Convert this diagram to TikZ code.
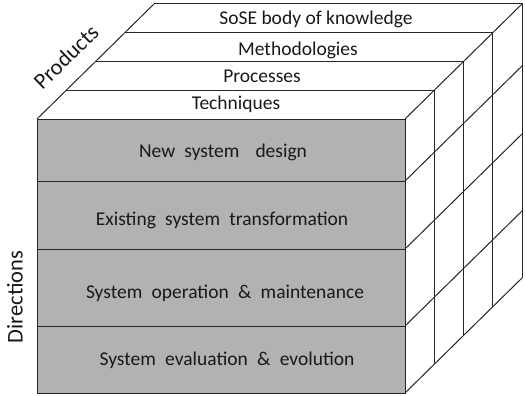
\documentclass[tikz,border=0pt]{standalone}
\usepackage{fontspec}
\setmainfont{Carlito}
\begin{document}
\begin{tikzpicture}[x=1pt,y=-1pt,
  edge/.style={draw=black!85,line width=1pt},
  row/.style={edge,fill=black!30},
  lbl/.style={font=\fontsize{19.5}{22}\selectfont,text=black!90,inner sep=0pt},
  axis/.style={font=\fontsize{22.5}{26}\selectfont,text=black!90,inner sep=0pt}]
\useasboundingbox (0,0) rectangle (525,396);
\def\dx{29.3}\def\dy{28.8}
% front rows
\draw[row] (37,119) rectangle (405,181);
\draw[row] (37,181) rectangle (405,249);
\draw[row] (37,249) rectangle (405,326);
\draw[row] (37,326) rectangle (405,393);
% top layers and right verticals
\foreach \k in {1,2,3,4}{
  \draw[edge] (37+\k*\dx,119-\k*\dy) -- (405+\k*\dx,119-\k*\dy) -- (405+\k*\dx,393-\k*\dy);
}
% left diagonal
\draw[edge] (37,119) -- (37+4*\dx,119-4*\dy);
% right diagonals
\foreach \y in {119,181,249,326,393}{
  \draw[edge] (405,\y) -- (405+4*\dx,\y-4*\dy);
}
% labels
\node[lbl] (t1) at (316,19) {SoSE body of knowledge};
\node[lbl] (t2) at (298,50) {Methodologies};
\node[lbl] (t3) at (262,76) {Processes};
\node[lbl] (t4) at (236,104) {Techniques};
\node[lbl] (r1) at (223,152) {New\hspace{0.25em} system\hspace{0.6em} design};
\node[lbl] (r2) at (222,220) {Existing\hspace{0.25em} system\hspace{0.25em} transformation};
\node[lbl] (r3) at (225,293) {System\hspace{0.25em} operation\hspace{0.25em} \&\hspace{0.25em} maintenance};
\node[lbl] (r4) at (227,360) {System\hspace{0.25em} evaluation\hspace{0.25em} \&\hspace{0.25em} evolution};
\node[axis,rotate=90] (dir) at (15,297) {Directions};
\node[axis,rotate=44] (prod) at (66,57) {Products};
\end{tikzpicture}
\end{document}
